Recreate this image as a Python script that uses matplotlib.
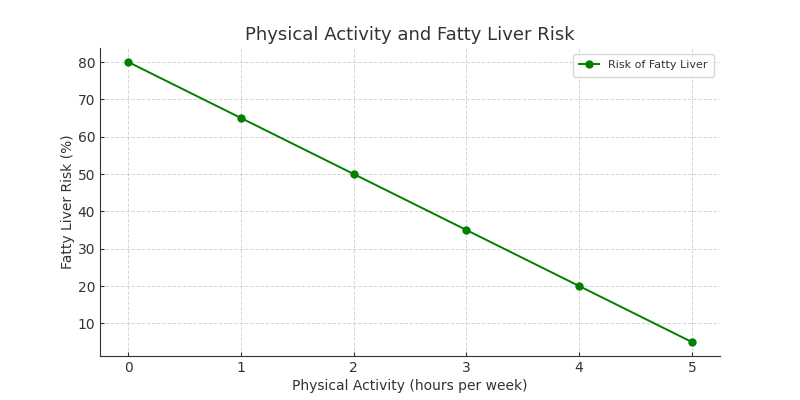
import matplotlib
matplotlib.use('Agg')
import matplotlib.pyplot as plt

# data
activity_hours = [0, 1, 2, 3, 4, 5]
liver_risk = [80, 65, 50, 35, 20, 5]

text_color = '#333333'

fig, ax = plt.subplots(figsize=(8, 4), dpi=100)
ax.plot(activity_hours, liver_risk, marker='o', color='green', markersize=5,
        linewidth=1.4, label='Risk of Fatty Liver')

ax.set_title('Physical Activity and Fatty Liver Risk', fontsize=13, color=text_color)
ax.set_xlabel('Physical Activity (hours per week)', fontsize=10, color=text_color, labelpad=3)
ax.set_ylabel('Fatty Liver Risk (%)', fontsize=10, color=text_color, labelpad=1.5)

ax.grid(True, linestyle='--', color='#cccccc', linewidth=0.7, alpha=0.8)
ax.spines['top'].set_visible(False)
ax.spines['right'].set_visible(False)
for s in ('left', 'bottom'):
    ax.spines[s].set_color('#333333')
ax.tick_params(labelcolor=text_color, labelsize=10, direction='in', length=3,
               width=0.8, pad=3.5, color='#333333')

leg = ax.legend(loc='upper right', fontsize=8, handlelength=1.8, borderpad=0.6)
for t in leg.get_texts():
    t.set_color(text_color)

fig.savefig('out.png')
